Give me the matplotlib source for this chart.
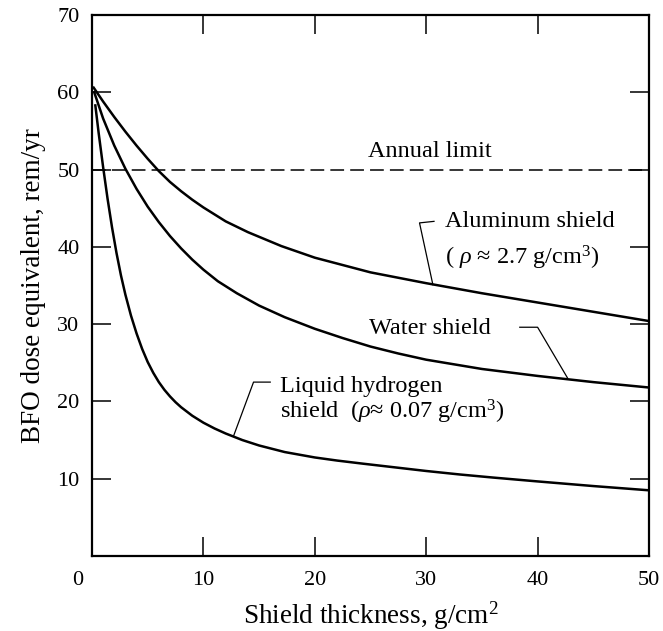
import matplotlib
matplotlib.use("Agg")
import matplotlib.pyplot as plt
import matplotlib.transforms as mtrans

plt.rcParams["font.family"] = ["Liberation Serif", "DejaVu Serif"]
plt.rcParams["mathtext.fontset"] = "custom"
plt.rcParams["mathtext.rm"] = "Liberation Serif"
plt.rcParams["mathtext.it"] = "Liberation Serif:italic"

# --- data (thickness g/cm2, dose rem/yr) ---
al_x = [0.15, 1, 2, 3, 4, 5, 6, 7, 8, 9, 10, 12, 14, 17, 20, 25, 30, 35, 40, 45, 50]
al_y = [60.6, 58.8, 56.8, 54.9, 53.1, 51.4, 49.8, 48.4, 47.2, 46.1, 45.1, 43.3,
        41.9, 40.1, 38.6, 36.7, 35.3, 34.0, 32.8, 31.6, 30.4]

water_x = [0.2, 1, 2, 3, 4, 5, 6, 7, 8, 9, 10, 11.3, 13, 15, 17.3, 20, 22.5, 25,
           27.5, 30, 32.5, 35, 40, 45, 50]
water_y = [60.0, 56.6, 53.1, 50.1, 47.5, 45.2, 43.2, 41.4, 39.8, 38.35, 37.05, 35.55,
           34.0, 32.4, 30.9, 29.4, 28.2, 27.1, 26.2, 25.4, 24.8, 24.2, 23.3, 22.5, 21.8]

h2_x = [0.3, 0.6, 1.0, 1.4, 1.8, 2.2, 2.6, 3.0, 3.5, 4.0, 4.5, 5.0, 5.5, 6.0, 6.5,
        7.0, 7.5, 8.0, 9.0, 10, 11, 12, 13.5, 15, 17.3, 20, 22, 24.3, 27, 30, 33,
        36, 40, 45, 50]
h2_y = [58.3, 54.7, 50.3, 46.2, 42.5, 39.2, 36.3, 33.8, 31.1, 28.8, 26.8, 25.1,
        23.7, 22.5, 21.5, 20.65, 19.9, 19.25, 18.15, 17.25, 16.5, 15.85, 15.0, 14.3,
        13.45, 12.75, 12.35, 11.95, 11.5, 11.0, 10.55, 10.15, 9.65, 9.05, 8.5]

annual_limit = 50
xticks = [0, 10, 20, 30, 40, 50]
yticks = [0, 10, 20, 30, 40, 50, 60, 70]

# leader lines for the labels
al_lead_x = [30.7, 29.4, 30.6]
al_lead_y = [43.3, 43.1, 35.1]
water_lead_x = [38.4, 40.0, 42.7]
water_lead_y = [29.6, 29.6, 23.0]
h2_lead_x = [16.0, 14.5, 12.7]
h2_lead_y = [22.5, 22.5, 15.5]

fig = plt.figure(figsize=(6.63, 6.31), dpi=100)
ax = fig.add_axes([92 / 663, 1 - 556 / 631, 557 / 663, 541 / 631])

lw = 1.8
ax.plot(al_x, al_y, color="black", lw=lw)
ax.plot(water_x, water_y, color="black", lw=lw)
ax.plot(h2_x, h2_y, color="black", lw=lw)

ax.axhline(annual_limit, color="black", lw=1.1, dashes=(9, 4))
ax.text(30.3, 52.3, "Annual limit", fontsize=17.5, ha="center", va="center")

ax.plot(al_lead_x, al_lead_y, color="black", lw=0.9)
ax.text(31.7, 43.3, "Aluminum shield", fontsize=17.5, ha="left", va="center")
ax.text(31.7, 38.6, r"( $\rho$ ≈ 2.7 g/cm$^3$)", fontsize=17.5, ha="left", va="center")

ax.plot(water_lead_x, water_lead_y, color="black", lw=0.9)
ax.text(24.9, 29.4, "Water shield", fontsize=17.5, ha="left", va="center")

ax.plot(h2_lead_x, h2_lead_y, color="black", lw=0.9)
ax.text(16.9, 21.9, "Liquid hydrogen", fontsize=17.5, ha="left", va="center")
ax.text(16.9, 18.6, r"shield  ($\rho$≈ 0.07 g/cm$^3$)", fontsize=17.5, ha="left", va="center")

ax.set_xlim(0, 50)
ax.set_ylim(0, 70)
ax.set_xticks(xticks)
ax.set_yticks(yticks)
ax.set_yticklabels(["" if t == 0 else str(t) for t in yticks])
ax.tick_params(direction="in", length=14, width=1.1, labelsize=16,
               top=True, right=True, pad=9)
ax.tick_params(axis="x", pad=11)
for s in ax.spines.values():
    s.set_linewidth(1.6)

lbl0 = ax.get_xticklabels()[0]
lbl0.set_transform(lbl0.get_transform() + mtrans.ScaledTranslation(-10 / 72, 0, fig.dpi_scale_trans))

ax.set_xlabel("Shield thickness, g/cm$^2$", fontsize=19.5, labelpad=7)
ax.set_ylabel("BFO dose equivalent, rem/yr", fontsize=19.5, labelpad=8)

fig.savefig("out.png", dpi=100)
